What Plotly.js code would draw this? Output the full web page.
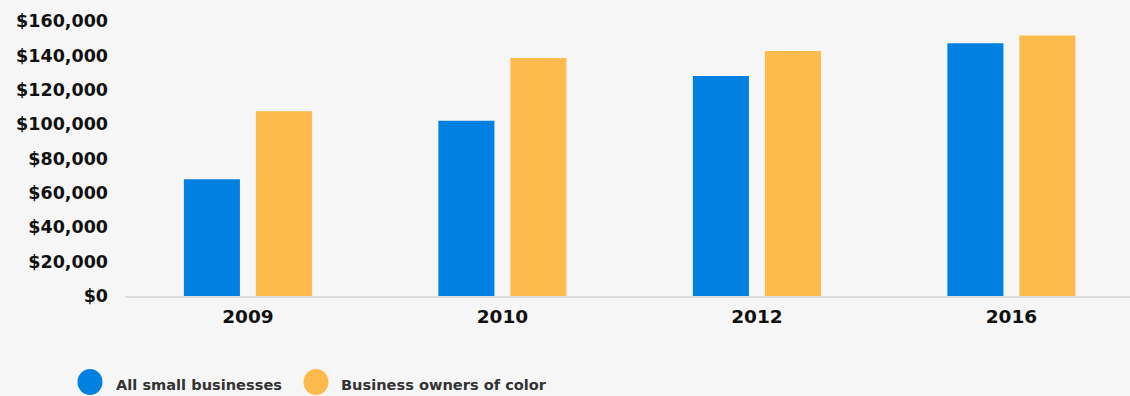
<!DOCTYPE html>
<html>
<head>
<meta charset="utf-8">
<script src="https://cdn.plot.ly/plotly-3.0.1.min.js"></script>
<style>html,body{margin:0;padding:0;background:#f6f6f6;}#chart{width:1130px;height:396px;}</style>
</head>
<body>
<div id="chart"></div>
<script>
const years = ['2009', '2010', '2012', '2016'];
const allSmallBusinesses = [68000, 102000, 128000, 147000];
const ownersOfColor = [107500, 138500, 142500, 151500];
const seriesNames = ['All small businesses', 'Business owners of color'];
const colors = ['#0080e0', '#fdbb4d'];

const traces = [
  {type: 'bar', x: years, y: allSmallBusinesses, name: seriesNames[0], marker: {color: colors[0]}, hoverinfo: 'skip'},
  {type: 'bar', x: years, y: ownersOfColor, name: seriesNames[1], marker: {color: colors[1]}, hoverinfo: 'skip'}
];

const L = 125, W = 1005, B = 296, H = 275;
const px = v => (v - L) / W;
const py = v => (B - v) / H;
const FONT = '"DejaVu Sans", sans-serif';

const legendShapes = [90, 316].map((cx, i) => ({
  type: 'circle', xref: 'paper', yref: 'paper',
  xsizemode: 'pixel', ysizemode: 'pixel',
  xanchor: px(cx), yanchor: py(382),
  x0: -12.5, x1: 12.5, y0: -13, y1: 13,
  fillcolor: colors[i], line: {width: 0}
}));

const legendText = [114, 339].map((lx, i) => ({
  xref: 'paper', yref: 'paper', x: px(lx), y: py(384),
  xanchor: 'left', yanchor: 'middle', showarrow: false,
  text: seriesNames[i],
  font: {family: FONT, size: 14.6, color: '#333333', weight: 700}
}));

const layout = {
  width: 1130, height: 396,
  margin: {l: L, r: 0, t: 21, b: 100},
  paper_bgcolor: '#f6f6f6', plot_bgcolor: '#f6f6f6',
  showlegend: false,
  barmode: 'group', bargap: 0.434, bargroupgap: 0.222,
  xaxis: {
    type: 'category', range: [-0.483, 3.466],
    showline: true, linecolor: '#dddddd', linewidth: 2,
    showgrid: false, zeroline: false, ticks: '',
    ticklabelstandoff: 3,
    tickfont: {family: FONT, size: 18.5, color: '#111111', weight: 700}
  },
  yaxis: {
    range: [0, 160000], dtick: 20000, tick0: 0,
    tickprefix: '$', tickformat: ',d',
    showgrid: false, zeroline: false, showline: false, ticks: '',
    ticklabelstandoff: 16,
    tickfont: {family: FONT, size: 17.5, color: '#111111', weight: 700}
  },
  shapes: legendShapes,
  annotations: legendText
};

Plotly.newPlot('chart', traces, layout, {displayModeBar: false, staticPlot: true});
</script>
</body>
</html>
